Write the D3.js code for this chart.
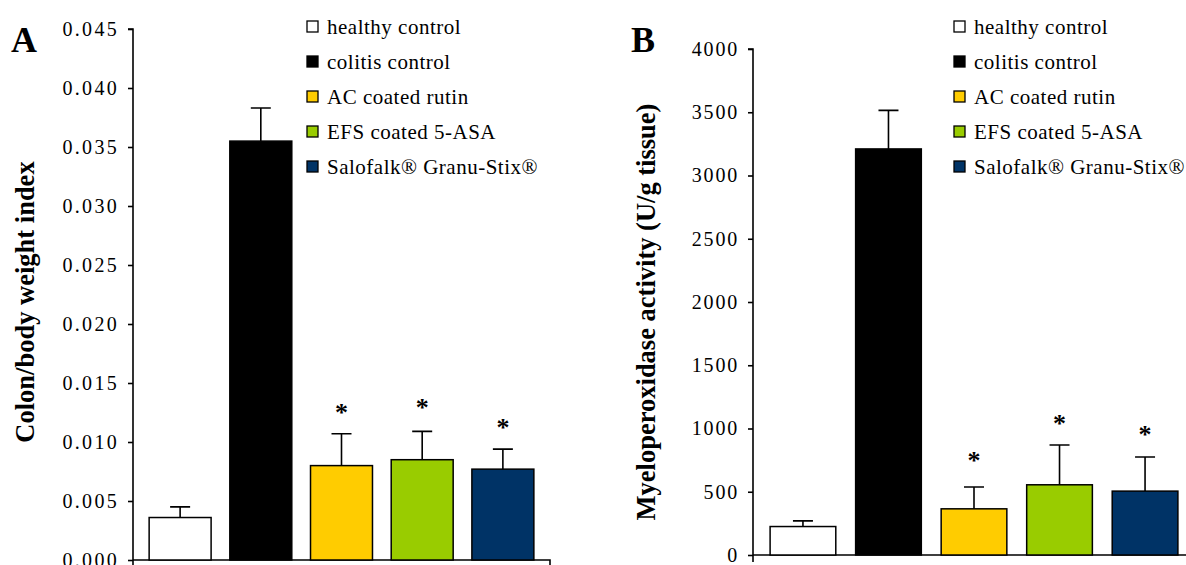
<!DOCTYPE html>
<html><head><meta charset="utf-8">
<script src="https://cdn.jsdelivr.net/npm/d3@7"></script>
<style>
body{margin:0;background:#fff;}
svg{display:block;font-family:"Liberation Serif","Times New Roman",serif;}
</style></head>
<body><svg id="c" width="1186" height="565"></svg>
<script>
const categories = ["healthy control","colitis control","AC coated rutin","EFS coated 5-ASA","Salofalk® Granu-Stix®"];
const colors = ["#ffffff","#000000","#ffcc00","#99cc00","#003366"];
const indexMean = [0.0036, 0.0355, 0.0080, 0.0085, 0.0077];
const indexSD   = [0.0009, 0.0028, 0.0027, 0.0024, 0.0017];
const indexStar = [null, null, 0.0129, 0.0133, 0.0116];
const indexTicks = [0,0.005,0.010,0.015,0.020,0.025,0.030,0.035,0.040,0.045];
const mpoMean = [225, 3210, 365, 555, 505];
const mpoSD   = [45, 305, 172, 315, 270];
const mpoStar = [null, null, 786, 1077, 987];
const mpoTicks = [0,500,1000,1500,2000,2500,3000,3500,4000];

const svg = d3.select("#c");
const FF = "Liberation Serif";

function panel(o){
  const g = svg.append("g");
  const x = d3.scaleBand().domain(categories).range(o.xr).paddingInner(0.232).paddingOuter(0.2);
  const y = d3.scaleLinear().domain(o.dom).range(o.yr);
  // y axis
  const ya = d3.axisLeft(y).tickValues(o.ticks).tickFormat(o.fmt).tickSize(5).tickPadding(9);
  const yg = g.append("g").attr("transform",`translate(${o.xr[0]},0)`).call(ya);
  yg.attr("font-family",FF);
  yg.select(".domain").attr("stroke","#000").attr("stroke-width",1.6).attr("d",`M-5,${o.yr[1]}H0V${o.yr[0]+7}`);
  yg.selectAll(".tick line").attr("stroke","#000").attr("stroke-width",1.6);
  yg.selectAll(".tick text").attr("font-family",FF).attr("font-size",20).attr("letter-spacing",o.tsp+"px").attr("fill","#000");
  // x axis
  g.append("path").attr("d",`M${o.xr[0]},${o.yr[0]}H${o.xr[1]}V${o.yr[0]+7}`).attr("fill","none").attr("stroke","#000").attr("stroke-width",1.6);
  // bars
  g.selectAll("rect.bar").data(categories).join("rect").attr("class","bar")
    .attr("x",d=>x(d)).attr("width",x.bandwidth())
    .attr("y",(d,i)=>y(o.mean[i])).attr("height",(d,i)=>y(0)-y(o.mean[i]))
    .attr("fill",(d,i)=>colors[i]).attr("stroke","#000").attr("stroke-width",1.5);
  // error bars
  const cap = 10;
  g.selectAll("path.err").data(categories).join("path").attr("class","err")
    .attr("d",(d,i)=>{const cx=x(d)+x.bandwidth()/2; const t=y(o.mean[i]+o.sd[i]); return `M${cx},${y(o.mean[i])}V${t}M${cx-cap},${t}H${cx+cap}`;})
    .attr("fill","none").attr("stroke","#000").attr("stroke-width",1.6);
  // stars
  g.selectAll("text.star").data(categories.filter((d,i)=>o.star[i]!=null)).join("text").attr("class","star")
    .attr("x",d=>x(d)+x.bandwidth()/2).attr("y",d=>y(o.star[categories.indexOf(d)])+13)
    .attr("font-family",FF).attr("text-anchor","middle").attr("font-size",26).attr("font-weight","bold").text("*");
  // y title
  g.append("text").attr("transform",`translate(${o.tx},${o.ty}) rotate(-90)`)
    .attr("font-family",FF).attr("text-anchor","middle").attr("font-size",26.5).attr("font-weight","bold").text(o.title);
  // panel letter
  g.append("text").attr("x",o.lx).attr("y",52).attr("font-family",FF).attr("font-size",36).attr("font-weight","bold").text(o.letter);
  // legend
  const lg = g.append("g");
  categories.forEach((c,i)=>{
    const yy = o.legY + i*35;
    lg.append("rect").attr("x",o.legX).attr("y",yy-6).attr("width",11).attr("height",11)
      .attr("fill",colors[i]).attr("stroke","#000").attr("stroke-width",1.3);
    lg.append("text").attr("x",o.legX+20).attr("y",yy+7).attr("font-family",FF).attr("font-size",21).attr("letter-spacing","0.5px").text(c);
  });
}

panel({xr:[133,550], yr:[560,29], dom:[0,0.045], ticks:indexTicks, fmt:d3.format(".3f"), tsp:2.3,
  mean:indexMean, sd:indexSD, star:indexStar, title:"Colon/body weight index", tx:34, ty:302,
  letter:"A", lx:11, legX:307, legY:27});
panel({xr:[753,1195], yr:[555,49], dom:[0,4000], ticks:mpoTicks, fmt:d3.format("d"), tsp:1.8,
  mean:mpoMean, sd:mpoSD, star:mpoStar, title:"Myeloperoxidase activity (U/g tissue)", tx:655, ty:312,
  letter:"B", lx:631, legX:954, legY:27});
</script></body></html>
